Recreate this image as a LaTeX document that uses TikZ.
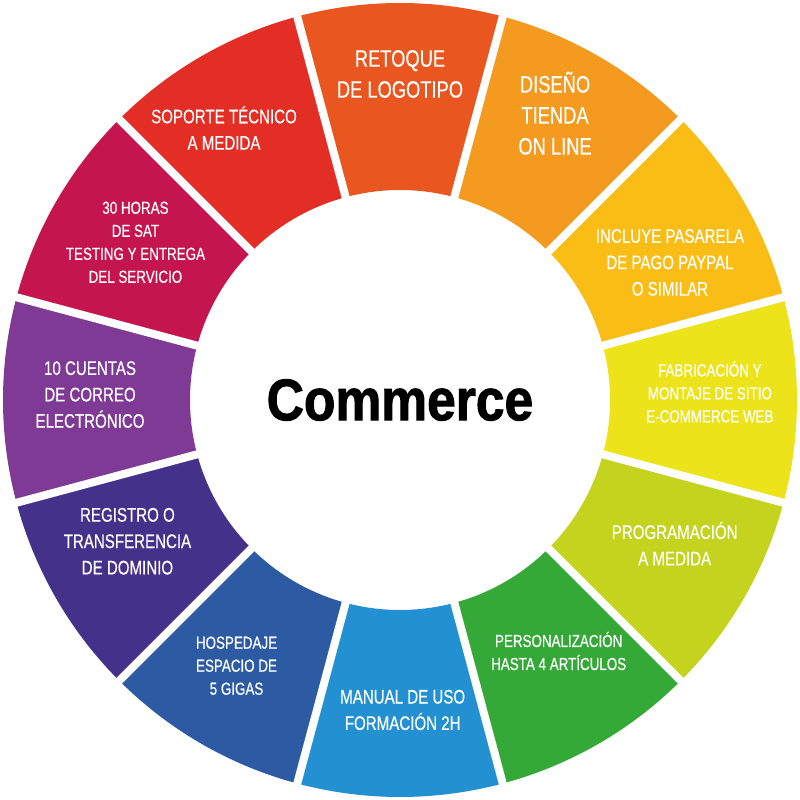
\documentclass[tikz,border=0pt]{standalone}
\usepackage{fontspec}
\setmainfont{Liberation Sans}[FakeStretch=0.77, FakeBold=0.4]
\newfontfamily\titlefont{Liberation Sans Bold}[FakeStretch=0.88, FakeBold=1.6]

\definecolor{cRetoque}{HTML}{E9561F}
\definecolor{cDiseno}{HTML}{F39A1F}
\definecolor{cPasarela}{HTML}{F9BD16}
\definecolor{cSitio}{HTML}{EDE31B}
\definecolor{cProgram}{HTML}{C3D31E}
\definecolor{cPersonal}{HTML}{35A938}
\definecolor{cManual}{HTML}{2391D1}
\definecolor{cHosting}{HTML}{2C5BA3}
\definecolor{cDominio}{HTML}{44318A}
\definecolor{cCorreo}{HTML}{7E3A94}
\definecolor{cSat}{HTML}{C5154E}
\definecolor{cSoporte}{HTML}{E32E26}

\begin{document}
\begin{tikzpicture}[
   x = 0.5pt, y = 0.5pt,
     lbl/.style = {text=white, align=center, inner sep=0pt},
    lbig/.style = {lbl, font=\fontsize{11.9}{15.5}\selectfont},
    lmid/.style = {lbl, font=\fontsize{9.8}{13.2}\selectfont},
  lsmall/.style = {lbl, font=\fontsize{8.7}{11.5}\selectfont},
     gap/.style = {white, line width=4pt}
                    ]
  \useasboundingbox (-400,-400) rectangle (400,400);
  % ring segments
  \foreach \a/\c in {75/cRetoque, 45/cDiseno, 15/cPasarela, -15/cSitio,
                     -45/cProgram, -75/cPersonal, -105/cManual, -135/cHosting,
                     -165/cDominio, 165/cCorreo, 135/cSat, 105/cSoporte}
    \fill[\c] (\a:210) arc[start angle=\a, end angle=\a+30, radius=210]
          -- (\a+30:397) arc[start angle=\a+30, end angle=\a, radius=397] -- cycle;
  \foreach \a in {15,45,...,345}
    \draw[gap] (\a:200) -- (\a:405);
  % labels
  \node (retoque)  [lbig]   at (90:326)     {RETOQUE\\DE LOGOTIPO};
  \node (diseno)   [lbig]   at (61.6:326)   {DISEÑO\\TIENDA\\ON LINE};
  \node (pasarela) [lmid]   at (27:303)     {INCLUYE PASARELA\\DE PAGO PAYPAL\\O SIMILAR};
  \node (sitio)    [lsmall] at (1.5:310)    {FABRICACIÓN Y\\MONTAJE DE SITIO\\E-COMMERCE WEB};
  \node (program)  [lmid]   at (-27.6:310)  {PROGRAMACIÓN\\A MEDIDA};
  \node (personal) [lsmall] at (-57.7:297)  {PERSONALIZACIÓN\\HASTA 4 ARTÍCULOS};
  \node (manual)   [lmid]   at (-89.5:310)  {MANUAL DE USO\\FORMACIÓN 2H};
  \node (hosting)  [lsmall] at (-121.6:312) {HOSPEDAJE\\ESPACIO DE\\5 GIGAS};
  \node (dominio)  [lmid]   at (-152.6:307) {REGISTRO O\\TRANSFERENCIA\\DE DOMINIO};
  \node (correo)   [lmid]   at (179:310)    {10 CUENTAS\\DE CORREO\\ELECTRÓNICO};
  \node (sat)      [lsmall] at (149.2:308)  {30 HORAS\\DE SAT\\TESTING Y ENTREGA\\DEL SERVICIO};
  \node (soporte)  [lmid]   at (122.9:324)  {SOPORTE TÉCNICO\\A MEDIDA};
  \node (commerce) [font=\titlefont\fontsize{29.3}{30}\selectfont] at (0,0) {Commerce};
\end{tikzpicture}
\end{document}
